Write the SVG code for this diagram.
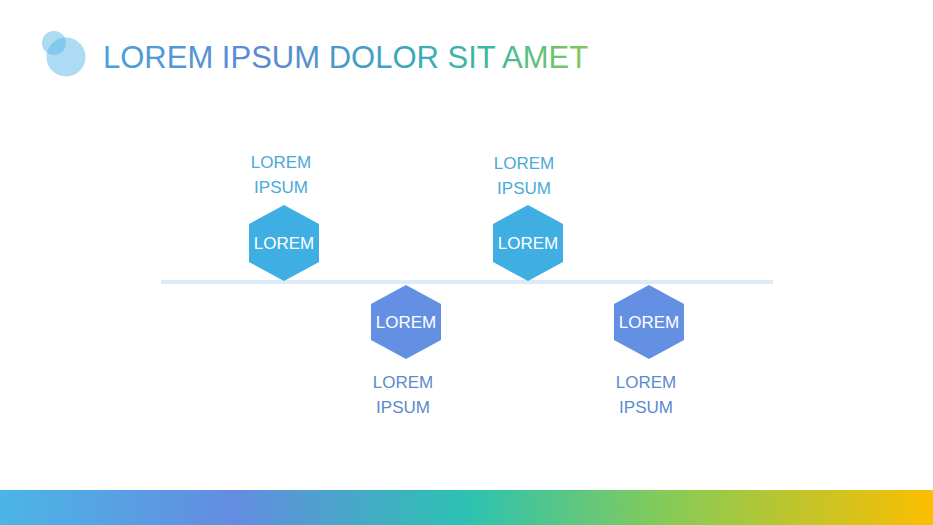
<svg xmlns="http://www.w3.org/2000/svg" width="933" height="525" viewBox="0 0 933 525">
  <defs>
    <linearGradient id="barGrad" x1="0" y1="0" x2="933" y2="0" gradientUnits="userSpaceOnUse">
      <stop offset="0" stop-color="#4BB5E6"/>
      <stop offset="0.25" stop-color="#648CE0"/>
      <stop offset="0.5" stop-color="#2CC2B2"/>
      <stop offset="0.72" stop-color="#88CB55"/>
      <stop offset="1" stop-color="#FBBE00"/>
    </linearGradient>
    <linearGradient id="titleGrad" x1="103" y1="0" x2="589" y2="0" gradientUnits="userSpaceOnUse">
      <stop offset="0" stop-color="#4AA2D8"/>
      <stop offset="0.33" stop-color="#5D88D4"/>
      <stop offset="0.62" stop-color="#3CA8BC"/>
      <stop offset="0.8" stop-color="#3EB8A0"/>
      <stop offset="1" stop-color="#86C858"/>
    </linearGradient>
    <style>
      .lbl { font-family: "Liberation Sans", Arial, sans-serif; font-size: 17px; text-anchor: middle; }
      .top { fill: #4AAAD8; }
      .bot { fill: #5A8BCE; }
      .hexTxt { font-family: "Liberation Sans", Arial, sans-serif; font-size: 17px; fill: #FFFFFF; text-anchor: middle; }
      .hexA { fill: #3FAEE3; }
      .hexB { fill: #6390E3; }
    </style>
  </defs>
  <rect x="0" y="0" width="933" height="525" fill="#FFFFFF"/>

  <g id="logo">
    <circle cx="54" cy="43" r="12" fill="#5BB8E8" opacity="0.5"/>
    <circle cx="66" cy="57" r="19.5" fill="#5BB8E8" opacity="0.5"/>
  </g>
  <text id="title" x="103" y="68" font-family="'Liberation Sans', Arial, sans-serif" font-size="31" fill="url(#titleGrad)">LOREM IPSUM DOLOR SIT AMET</text>

  <g id="connectors">
    <rect x="161" y="280" width="612" height="4" fill="#DDEBF8"/>
  </g>

  <g id="node1">
    <text class="lbl top" x="281" y="168">LOREM</text>
    <text class="lbl top" x="281" y="193">IPSUM</text>
    <polygon class="hexA" points="284,205 319,224 319,262 284,281 249,262 249,224"/>
    <text class="hexTxt" x="284" y="249">LOREM</text>
  </g>

  <g id="node2">
    <polygon class="hexB" points="406,285 441,304 441,340 406,359 371,340 371,304"/>
    <text class="hexTxt" x="406" y="328">LOREM</text>
    <text class="lbl bot" x="403" y="388">LOREM</text>
    <text class="lbl bot" x="403" y="413">IPSUM</text>
  </g>

  <g id="node3">
    <text class="lbl top" x="524" y="169">LOREM</text>
    <text class="lbl top" x="524" y="194">IPSUM</text>
    <polygon class="hexA" points="528,205 563,224 563,262 528,281 493,262 493,224"/>
    <text class="hexTxt" x="528" y="249">LOREM</text>
  </g>

  <g id="node4">
    <polygon class="hexB" points="649,285 684,304 684,340 649,359 614,340 614,304"/>
    <text class="hexTxt" x="649" y="328">LOREM</text>
    <text class="lbl bot" x="646" y="388">LOREM</text>
    <text class="lbl bot" x="646" y="413">IPSUM</text>
  </g>

  <rect id="footerBar" x="0" y="490" width="933" height="35" fill="url(#barGrad)"/>
</svg>
